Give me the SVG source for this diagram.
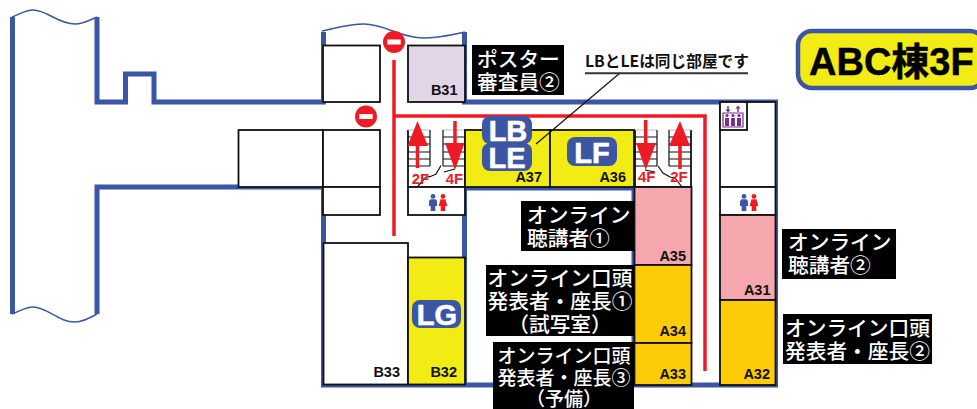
<svg xmlns="http://www.w3.org/2000/svg" width="977" height="409" viewBox="0 0 977 409">
<style>
text{font-family:"Liberation Sans","Noto Sans CJK JP",sans-serif}
.wall{fill:none;stroke:#3b56a5;stroke-width:5;stroke-linejoin:miter}
.wave{fill:none;stroke:#3b56a5;stroke-width:1.5}
.room{stroke:#111;stroke-width:1.8;fill:#fff}
.yel{fill:#f2ec14}.pink{fill:#f6a6ad}.ora{fill:#fecb08}.lil{fill:#e2d5e8}
.rn{font-size:14.5px;font-weight:700;fill:#111;text-anchor:end}
.badge{fill:#3b56a5}
.bt{font-weight:700;fill:#fff;text-anchor:middle;font-size:29px;stroke:#fff;stroke-width:.6}
.lab{fill:#000}
.jp{font-family:"Noto Sans CJK JP",sans-serif;font-weight:500;fill:#fff;font-size:20.7px}
.mid{text-anchor:middle}
.route{fill:none;stroke:#ed1c24;stroke-width:3.5}
.sh{stroke:#ed1c24;stroke-width:3.5;fill:none}
.hd{fill:#ed1c24}
.fl{font-size:15px;font-weight:700;fill:#ed1c24;text-anchor:middle}
.st{stroke:#111;stroke-width:1.2;fill:none}
.top{stroke:#bbb;stroke-width:1;fill:none}
</style>
<defs>
<g id="man"><circle cx="0" cy="2.4" r="2.4" fill="#3b56a5"/><path d="M-2.500,5.200H2.500L4,7V12H2.300V17H-2.300V12H-4V7Z" fill="#3b56a5"/></g>
<g id="woman"><circle cx="0" cy="2.4" r="2.4" fill="#ed1c24"/><path d="M-2.500,5.200H2.500L4.300,12H2.300V17H-2.300V12H-4.300Z" fill="#ed1c24"/></g>
<g id="no"><circle r="11" fill="#ed1c24"/><rect x="-6.7" y="-2.5" width="13.4" height="5" fill="#fff"/></g>
</defs>

<g id="walls">
<path class="wall" d="M12.500,17V314M97,17V102H125.500V74H154V102H326M97,314V187H323"/>
<path class="wave" d="M12,17C20,14 26,10 33,10C47,10 58,24 75,24C83,24 90,20 97,17"/>
<path class="wave" d="M12,314C20,311 26,307 33,307C47,307 58,322 75,322C83,322 90,318 97,314"/>
<path class="wall" d="M323.500,32V102M323.500,187V385H775.500V102H462M464.500,32V102M464.500,187V385M464.500,188H634V385"/>
<path class="wave" d="M322,31C340,27 350,24 364,24C385,24 400,38 423,38C440,38 450,35 465,32"/>
</g>

<g id="room-top-left"><rect class="room" x="323" y="45.500" width="57" height="56.500"/></g>
<g id="room-b31"><rect class="room lil" x="408" y="45.500" width="57" height="56.500"/><text class="rn" x="457.500" y="95">B31</text></g>
<g id="room-mid-left"><rect class="room" x="238.500" y="130" width="84.500" height="57"/></g>
<g id="room-mid"><rect class="room" x="323" y="130" width="57" height="57"/></g>
<g id="room-mid-low"><rect class="room" x="323" y="187" width="57" height="28"/></g>

<g id="stairs-left">
<path class="room" d="M408,130V187H465V130"/>
<path class="top" d="M408,130H430M443,130H465"/>
<path class="st" d="M430,130V166M443,166V130M408,137H430M408,144H430M408,152H430M408,159H430M408,166H430M443,137H465M443,144H465M443,152H465M443,159H465M443,166H465"/>
<path class="st" d="M441,165.500L436,174L430,176.700L426,177L418,186M444,172L455,169"/>
</g>
<g id="restroom-left"><rect class="room" x="408" y="187" width="57" height="28"/><use href="#man" x="433" y="194"/><use href="#woman" x="443" y="194"/></g>
<g id="room-b33"><rect class="room" x="323.500" y="243" width="84.500" height="141.500"/><text class="rn" x="400" y="377">B33</text></g>
<g id="room-b32"><rect class="room yel" x="408" y="257.500" width="57" height="127"/><rect class="badge" x="412" y="300" width="49" height="28" rx="8"/><text class="bt" x="437" y="324.500">LG</text><text class="rn" x="457" y="377">B32</text></g>
<g id="room-a37"><rect class="room yel" x="465" y="130" width="85" height="57"/><text class="rn" x="542" y="181.500">A37</text></g>
<g id="room-a36"><rect class="room yel" x="550" y="130" width="84" height="57"/><rect class="badge" x="567" y="137" width="50" height="29" rx="8"/><text class="bt" x="592" y="163">LF</text><text class="rn" x="626" y="181.500">A36</text></g>
<g id="stairs-right">
<path class="room" d="M635,130V187H691V130"/>
<path class="top" d="M635,130H657M669,130H691"/>
<path class="st" d="M657,130V166M669,166V130M635,137H657M635,144H657M635,152H657M635,159H657M635,166H657M669,137H691M669,144H691M669,152H691M669,159H691M669,166H691"/>
<path class="st" d="M658,166L663,173L670,177L675,178L682,187M645,170L655,172"/>
</g>
<g id="room-a35"><rect class="room pink" x="634.500" y="187" width="57" height="78"/><text class="rn" x="686" y="260.500">A35</text></g>
<g id="room-a34"><rect class="room ora" x="634.500" y="265" width="57" height="78"/><text class="rn" x="686" y="336">A34</text></g>
<g id="room-a33"><rect class="room ora" x="634.500" y="343" width="57" height="42"/><text class="rn" x="686" y="379">A33</text></g>
<g id="room-right"><rect class="room" x="720" y="102" width="55.500" height="85"/></g>
<g id="elevator"><rect class="room" x="720" y="102" width="27" height="28"/>
<g fill="#7b2d8b" stroke="none"><path d="M723,113H743V127H723Z" fill="none" stroke="#7b2d8b" stroke-width="1.2"/>
<circle cx="727" cy="115.500" r="1.600"/><path d="M725,118H729V126H725Z"/><circle cx="733" cy="115.500" r="1.600"/><path d="M731,118H735V126H731Z"/><circle cx="739" cy="115.500" r="1.600"/><path d="M737,118H741V126H737Z"/>
<path d="M727.300,106H728.700V109.500H730.500L728,112.500L725.500,109.500H727.300Z"/><path d="M737.300,112H738.700V108.500H740.500L738,105.500L735.500,108.500H737.300Z"/></g></g>
<g id="restroom-right"><rect class="room" x="720" y="187" width="55.500" height="28"/><use href="#man" x="744" y="194"/><use href="#woman" x="754" y="194"/></g>
<g id="room-a31"><rect class="room pink" x="720" y="215" width="55.500" height="85"/><text class="rn" x="770.500" y="295">A31</text></g>
<g id="room-a32"><rect class="room ora" x="720" y="300" width="55.500" height="85"/><text class="rn" x="770" y="379">A32</text></g>

<g id="connectors">
<path class="route" d="M394,60V236M394,116H705V371"/>
<use href="#no" x="394" y="42"/><use href="#no" x="366" y="116.500"/>
<path class="sh" d="M417.500,146V168"/><path class="hd" d="M417.500,121L428,146H407.500Z"/>
<path class="sh" d="M455,121V145"/><path class="hd" d="M445,143H464.500L455,170Z"/>
<path class="sh" d="M645.700,120V145"/><path class="hd" d="M636,143H656L645.700,170Z"/>
<path class="sh" d="M680,146V169"/><path class="hd" d="M680,121L690,146H669Z"/>
<path d="M620,73L536,144" stroke="#111" stroke-width="1.200" fill="none"/>
<path d="M585,73.300H748" stroke="#333" stroke-width="2" fill="none"/>
</g>

<g id="floor-labels">
<text class="fl" x="420.500" y="184">2F</text><text class="fl" x="454.500" y="184">4F</text>
<text class="fl" x="646.700" y="182">4F</text><text class="fl" x="679" y="182">2F</text>
</g>

<g id="badge-lb"><rect class="badge" x="482" y="116" width="50" height="28" rx="8"/><text class="bt" x="508" y="140.500">LB</text></g>
<g id="badge-le"><rect class="badge" x="482" y="143" width="50" height="28" rx="8"/><text class="bt" x="507" y="168">LE</text></g>

<g id="note"><text x="585" y="66.500" style="font-family:'Noto Sans CJK JP',sans-serif;font-weight:700;font-size:15.7px;fill:#111">LBとLEは同じ部屋です</text></g>

<g id="title"><rect x="798" y="31" width="186" height="57" rx="14" fill="#f2ec14" stroke="#3b56a5" stroke-width="4.500"/><text x="809" y="75" style="font-size:38px;font-weight:700;fill:#000;stroke:#000;stroke-width:.5">ABC棟3F</text></g>

<g id="label-poster"><rect class="lab" x="472" y="45" width="92" height="50"/><text class="jp" x="477" y="67">ポスター</text><text class="jp" x="477" y="90">審査員②</text></g>
<g id="label-a35"><rect class="lab" x="521" y="201" width="113" height="50"/><text class="jp" x="527" y="223">オンライン</text><text class="jp" x="527" y="245.500">聴講者①</text></g>
<g id="label-a34"><rect class="lab" x="486" y="265" width="148" height="71"/><text class="jp mid" x="560" y="286">オンライン口頭</text><text class="jp mid" x="560" y="309">発表者・座長①</text><text class="jp mid" x="560" y="332">（試写室）</text></g>
<g id="label-a33"><rect class="lab" x="493" y="342" width="141" height="67"/><text class="jp mid" x="564" y="363" style="font-size:19px">オンライン口頭</text><text class="jp mid" x="564" y="385" style="font-size:19px">発表者・座長③</text><text class="jp mid" x="564" y="406" style="font-size:19px">（予備）</text></g>
<g id="label-a31"><rect class="lab" x="782" y="229" width="114" height="50"/><text class="jp" x="788" y="250">オンライン</text><text class="jp" x="788" y="273">聴講者②</text></g>
<g id="label-a32"><rect class="lab" x="783" y="314" width="149" height="50"/><text class="jp" x="785" y="336">オンライン口頭</text><text class="jp" x="785" y="359">発表者・座長②</text></g>
</svg>
